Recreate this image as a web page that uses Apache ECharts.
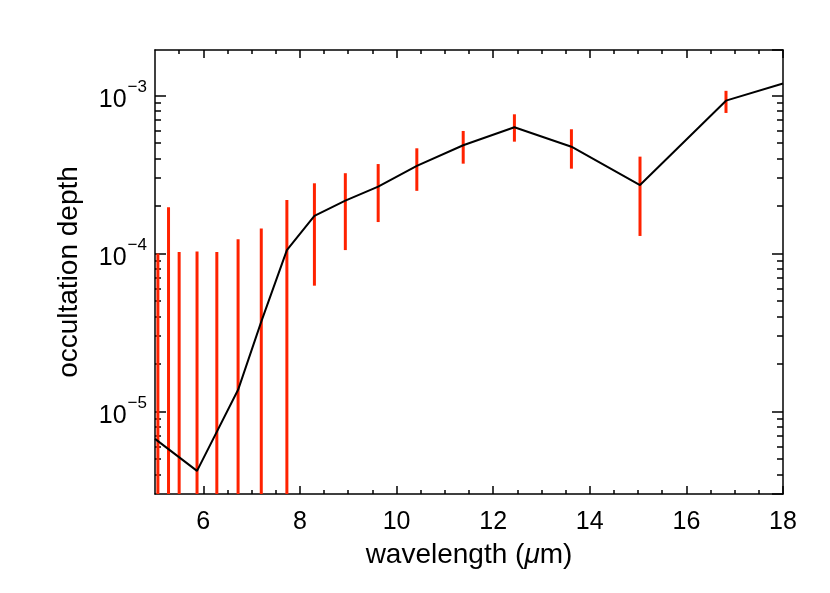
<!DOCTYPE html>
<html>
<head>
<meta charset="utf-8">
<script src="https://cdn.jsdelivr.net/npm/echarts@6/dist/echarts.min.js"></script>
<style>
  html, body { margin: 0; padding: 0; background: #fff; }
  #main { width: 830px; height: 593px; }
</style>
</head>
<body>
<div id="main"></div>
<script>
// measured points (red error bars)
var wavelength = [5.06, 5.28, 5.50, 5.87, 6.28, 6.72, 7.20, 7.73, 8.30, 8.94, 9.62, 10.42, 11.38, 12.44, 13.62, 15.04, 16.82];
var depthHigh = [1.0e-4, 1.96e-4, 1.02e-4, 1.03e-4, 1.02e-4, 1.23e-4, 1.44e-4, 2.18e-4, 2.78e-4, 3.22e-4, 3.68e-4, 4.63e-4, 5.96e-4, 7.60e-4, 6.11e-4, 4.10e-4, 1.07e-3];
// first bars run off the bottom of the plot
var depthLow = [1e-7, 1e-7, 1e-7, 1e-7, 1e-7, 1e-7, 1e-7, 1e-7, 6.25e-5, 1.05e-4, 1.58e-4, 2.49e-4, 3.70e-4, 5.10e-4, 3.44e-4, 1.29e-4, 7.75e-4];

// model curve (black line)
var modelWave = [5.0, 5.87, 6.72, 7.20, 7.73, 8.30, 8.94, 9.62, 10.42, 11.38, 12.44, 13.62, 15.04, 16.82, 18.0];
var modelDepth = [6.7e-6, 4.2e-6, 1.37e-5, 3.7e-5, 1.05e-4, 1.73e-4, 2.16e-4, 2.65e-4, 3.58e-4, 4.84e-4, 6.29e-4, 4.74e-4, 2.71e-4, 9.27e-4, 1.19e-3];

// axes
var xMin = 5, xMax = 18;
var xMajorTicks = [6, 8, 10, 12, 14, 16, 18];
var xMinorTicks = [5.5, 6.5, 7, 7.5, 8.5, 9, 9.5, 10.5, 11, 11.5, 12.5, 13, 13.5, 14.5, 15, 15.5, 16.5, 17, 17.5];
var yMin = 3.0e-6, yMax = 1.94e-3;
var yDecades = [-6, -5, -4, -3];
var yMinorMult = [2, 3, 4, 5, 6, 7, 8, 9];

var yMinorLogs = [];
yDecades.forEach(function (d) {
    yMinorMult.forEach(function (k) {
        var v = Math.log10(k) + d;
        if (v > Math.log10(yMin) && v < Math.log10(yMax)) yMinorLogs.push(v);
    });
});

var font = 'Liberation Sans';
var black = '#000';
var red = '#ff2200';

var errData = wavelength.map(function (w, i) { return [w, depthLow[i], depthHigh[i]]; });
var modelData = modelWave.map(function (w, i) { return [w, modelDepth[i]]; });

var lineStyleAxis = { color: black, width: 1.5 };

var myChart = echarts.init(document.getElementById('main'), null, { renderer: 'canvas' });
myChart.setOption({
    backgroundColor: '#fff',
    animation: false,
    grid: { left: 155, right: 47, top: 50, bottom: 99 },
    xAxis: [
        {
            type: 'value', position: 'bottom', min: xMin, max: xMax,
            axisLine: { show: true, lineStyle: lineStyleAxis },
            axisTick: { show: true, inside: true, length: 8, customValues: xMajorTicks, lineStyle: lineStyleAxis },
            axisLabel: { show: true, customValues: xMajorTicks, fontSize: 25, fontFamily: font, color: black, margin: 16 },
            splitLine: { show: false },
            name: 'wavelength ({i|μ}m)',
            nameLocation: 'middle',
            nameGap: 47,
            nameTextStyle: {
                fontSize: 28, fontFamily: font, color: black,
                rich: { i: { fontSize: 28, fontFamily: font, fontStyle: 'italic', color: black } }
            }
        },
        {
            type: 'value', position: 'bottom', min: xMin, max: xMax,
            axisLine: { show: false },
            axisTick: { show: true, inside: true, length: 4, customValues: xMinorTicks, lineStyle: lineStyleAxis },
            axisLabel: { show: false },
            splitLine: { show: false }
        },
        {
            type: 'value', position: 'top', min: xMin, max: xMax,
            axisLine: { show: true, lineStyle: lineStyleAxis },
            axisTick: { show: true, inside: true, length: 8, customValues: xMajorTicks, lineStyle: lineStyleAxis },
            axisLabel: { show: false },
            splitLine: { show: false }
        },
        {
            type: 'value', position: 'top', min: xMin, max: xMax,
            axisLine: { show: false },
            axisTick: { show: true, inside: true, length: 4, customValues: xMinorTicks, lineStyle: lineStyleAxis },
            axisLabel: { show: false },
            splitLine: { show: false }
        }
    ],
    yAxis: [
        {
            type: 'log', logBase: 10, position: 'left', min: yMin, max: yMax,
            axisLine: { show: true, lineStyle: lineStyleAxis },
            axisTick: { show: true, inside: true, length: 11, lineStyle: lineStyleAxis },
            axisLabel: {
                show: true, margin: 8, showMinLabel: false, showMaxLabel: false,
                fontSize: 25, fontFamily: font, color: black,
                formatter: function (v) {
                    var e = Math.round(Math.log10(v));
                    return '{b|10}{s|' + String(e).replace('-', '\u2212') + '}';
                },
                rich: {
                    b: { fontSize: 25, fontFamily: font, color: black, lineHeight: 34, verticalAlign: 'bottom' },
                    s: { fontSize: 17, fontFamily: font, color: black, lineHeight: 34, verticalAlign: 'top', padding: [0, 0, 0, 1] }
                }
            },
            splitLine: { show: false },
            name: 'occultation depth',
            nameLocation: 'middle',
            nameGap: 72,
            nameTextStyle: { fontSize: 28, fontFamily: font, color: black }
        },
        {
            type: 'value', position: 'left', min: Math.log10(yMin), max: Math.log10(yMax),
            axisLine: { show: false },
            axisTick: { show: true, inside: true, length: 6, customValues: yMinorLogs, lineStyle: lineStyleAxis },
            axisLabel: { show: false },
            splitLine: { show: false }
        },
        {
            type: 'log', logBase: 10, position: 'right', min: yMin, max: yMax,
            axisLine: { show: true, lineStyle: lineStyleAxis },
            axisTick: { show: true, inside: true, length: 11, lineStyle: lineStyleAxis },
            axisLabel: { show: false },
            splitLine: { show: false }
        },
        {
            type: 'value', position: 'right', min: Math.log10(yMin), max: Math.log10(yMax),
            axisLine: { show: false },
            axisTick: { show: true, inside: true, length: 6, customValues: yMinorLogs, lineStyle: lineStyleAxis },
            axisLabel: { show: false },
            splitLine: { show: false }
        }
    ],
    series: [
        {
            name: 'data',
            type: 'custom',
            xAxisIndex: 0,
            yAxisIndex: 0,
            clip: true,
            z: 2,
            encode: { x: 0, y: [1, 2] },
            data: errData,
            renderItem: function (params, api) {
                var p1 = api.coord([api.value(0), api.value(1)]);
                var p2 = api.coord([api.value(0), api.value(2)]);
                return {
                    type: 'line',
                    shape: { x1: p1[0], y1: p1[1], x2: p2[0], y2: p2[1] },
                    style: { stroke: red, lineWidth: 3 }
                };
            }
        },
        {
            name: 'model',
            type: 'line',
            xAxisIndex: 0,
            yAxisIndex: 0,
            z: 3,
            clip: true,
            symbol: 'none',
            data: modelData,
            lineStyle: { color: black, width: 2 }
        }
    ]
});
</script>
</body>
</html>
